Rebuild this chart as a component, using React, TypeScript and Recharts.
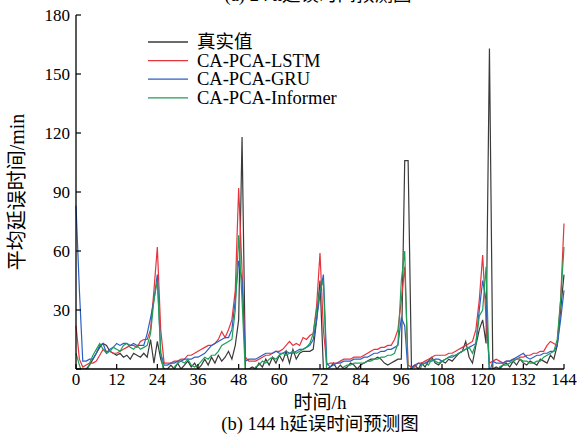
import React from 'react';
import { LineChart, Line, XAxis, YAxis } from 'recharts';

const FONT = "'Liberation Serif', 'Noto Sans CJK SC', serif";

// hour index 0..144
const HOURS = Array.from({ length: 145 }, (_, i) => i);
const X_TICKS = [0, 12, 24, 36, 48, 60, 72, 84, 96, 108, 120, 132, 144];
const Y_TICKS = [0, 30, 60, 90, 120, 150, 180];

// 真实值
const ACTUAL = [
  0, 0, 0, 0, 2, 5, 8, 11, 13, 12, 9, 8, 7, 8, 6, 7, 5, 8, 7, 6, 8, 6, 15, 3, 14, 5, 0,
  0, 2, 0, 3, 0, 2, 4, 1, 3, 0, 2, 5, 2, 6, 3, 7, 4, 6, 9, 5, 12, 25, 118, 0,
  0, 1, 0, 3, 1, 5, 2, 6, 3, 7, 4, 9, 3, 10, 5, 8, 9, 9, 9, 10, 25, 45, 0, 0,
  1, 3, 0, 2, 0, 1, 3, 2, 0, 2, 3, 4, 5, 5, 6, 5, 3, 2, 3, 4, 5, 5, 106, 106,
  0, 2, 0, 3, 1, 4, 6, 3, 2, 4, 3, 5, 4, 6, 8, 9, 14, 6, 3, 12, 20, 25, 13, 163, 0,
  1, 0, 2, 3, 1, 4, 2, 5, 3, 2, 4, 3, 2, 5, 4, 3, 7, 5, 12, 30, 48,
];

// CA-PCA-LSTM
const LSTM = [
  22, 5, 1, 2, 3, 3, 4, 7, 10, 9, 9, 8, 8, 9, 10, 11, 12, 12, 11, 14, 15, 15, 20, 40, 62, 20, 3,
  3, 3, 4, 4, 5, 5, 7, 7, 8, 9, 10, 11, 12, 12, 13, 15, 19, 16, 20, 25, 40, 92, 50, 6,
  4, 4, 4, 5, 6, 7, 7, 8, 9, 9, 10, 12, 14, 12, 13, 12, 16, 15, 17, 18, 32, 59, 20, 2,
  3, 3, 3, 4, 5, 5, 5, 6, 6, 6, 7, 8, 9, 10, 10, 11, 11, 12, 12, 15, 20, 35, 52, 2,
  1, 1, 3, 3, 4, 5, 6, 7, 7, 7, 7, 8, 8, 9, 10, 11, 12, 13, 14, 20, 35, 58, 25, 3, 4,
  5, 4, 3, 4, 4, 5, 5, 6, 6, 7, 7, 8, 8, 9, 9, 12, 14, 13, 12, 35, 74,
];

// CA-PCA-GRU
const GRU = [
  83, 40, 4, 4, 5, 5, 8, 12, 13, 8, 10, 11, 13, 12, 13, 13, 12, 13, 12, 12, 12, 18, 26, 35, 48, 8, 2,
  2, 3, 3, 4, 4, 5, 5, 5, 6, 6, 7, 8, 10, 12, 13, 14, 15, 16, 16, 20, 35, 55, 45, 4,
  5, 5, 5, 6, 7, 8, 8, 8, 9, 8, 8, 9, 8, 8, 9, 10, 10, 11, 12, 15, 25, 38, 48, 3,
  1, 2, 3, 3, 4, 4, 4, 5, 5, 5, 6, 6, 7, 8, 8, 9, 9, 10, 10, 11, 12, 26, 22, -2,
  1, 2, 3, 2, 3, 4, 4, 5, 5, 4, 5, 6, 6, 7, 8, 9, 10, 11, 12, 13, 30, 45, 35, -2, 4,
  3, 3, 3, 4, 4, 5, 6, 7, 8, 6, 5, 6, 7, 7, 8, 8, 9, 9, 12, 25, 40,
];

// CA-PCA-Informer
const INFORMER = [
  8, 2, -3, -3, 3, 7, 10, 13, 10, 8, 9, 11, 10, 9, 12, 13, 11, 10, 12, 10, 11, 12, 18, 35, 45, 8, -3,
  -3, -3, 1, 3, 4, 3, 5, 2, 1, 2, 4, 6, 5, 7, 7, 9, 12, 13, 14, 15, 30, 68, 35, -3,
  -3, -3, 1, 2, 4, 3, 5, 6, 5, 7, 8, 7, 8, 9, 8, 9, 10, 11, 13, 18, 30, 40, 45, -3,
  -3, -3, -3, -3, 1, 2, 2, 3, 3, 3, 3, 4, 4, 5, 5, 6, 6, 7, 7, 8, 13, 45, 60, -3,
  -3, -3, -3, 2, 3, 2, 5, 4, 3, 4, 5, 6, 7, 7, 8, 9, 10, 11, 8, 13, 27, 30, 52, -3, -3,
  -3, 1, 2, 2, 3, 4, 5, 5, 4, 4, 3, 3, 4, 4, 6, 7, 8, 9, 15, 35, 62,
];

const SERIES = [
  { key: 'actual', name: '真实值', color: '#3a3a3a' },
  { key: 'lstm', name: 'CA-PCA-LSTM', color: '#e8323c' },
  { key: 'gru', name: 'CA-PCA-GRU', color: '#2a5fc6' },
  { key: 'informer', name: 'CA-PCA-Informer', color: '#1f9e55' },
];

const data = HOURS.map((h, i) => ({
  hour: h,
  actual: ACTUAL[i],
  lstm: LSTM[i],
  gru: GRU[i],
  informer: INFORMER[i],
}));

// ticks point inwards, labels drawn by hand
const XTick = ({ x, y, payload }: any) => (
  <g>
    <line x1={x} x2={x} y1={y} y2={y - 5} stroke="#000" strokeWidth={1.2} />
    <text x={x} y={y + 16} textAnchor="middle" fontSize={17} fontFamily={FONT} fill="#000">
      {payload.value}
    </text>
  </g>
);

const YTick = ({ x, y, payload }: any) => (
  <g>
    <line x1={x} x2={x + 5} y1={y} y2={y} stroke="#000" strokeWidth={1.2} />
    {payload.value !== 0 && (
      <text x={x - 6} y={y + 6} textAnchor="end" fontSize={17} fontFamily={FONT} fill="#000">
        {payload.value}
      </text>
    )}
  </g>
);

export default function App() {
  return (
    <div
      style={{
        position: 'absolute',
        left: 0,
        top: 0,
        width: 586,
        height: 437,
        background: '#fff',
        fontFamily: FONT,
      }}
    >
      <LineChart
        width={586}
        height={437}
        data={data}
        margin={{ top: 15, right: 22, bottom: 38, left: 16 }}
      >
        <XAxis
          type="number"
          dataKey="hour"
          domain={[0, 144]}
          ticks={X_TICKS}
          interval={0}
          height={30}
          tickLine={false}
          tickSize={0}
          tickMargin={0}
          axisLine={{ stroke: '#000', strokeWidth: 1.3 }}
          tick={XTick}
        />
        <YAxis
          type="number"
          domain={[0, 180]}
          ticks={Y_TICKS}
          interval={0}
          width={60}
          allowDataOverflow
          tickLine={false}
          tickSize={0}
          tickMargin={0}
          axisLine={{ stroke: '#000', strokeWidth: 1.3 }}
          tick={YTick}
        />
        {SERIES.map((s) => (
          <Line
            key={s.key}
            type="linear"
            dataKey={s.key}
            name={s.name}
            stroke={s.color}
            strokeWidth={1.2}
            dot={false}
            activeDot={false}
            isAnimationActive={false}
          />
        ))}
      </LineChart>

      <svg
        width={586}
        height={437}
        style={{ position: 'absolute', left: 0, top: 0, pointerEvents: 'none' }}
      >
        {/* cut-off caption of the upper panel */}
        <text x={318} y={1} textAnchor="middle" fontSize={18.5} fontFamily={FONT} fill="#000">
          (a) 24 h延误时间预测图
        </text>

        {SERIES.map((s, i) => (
          <g key={s.key}>
            <line
              x1={148}
              x2={188}
              y1={42 + i * 18.6}
              y2={42 + i * 18.6}
              stroke={s.color}
              strokeWidth={1.3}
            />
            <text x={197} y={42 + i * 18.6 + 6} fontSize={18.5} fontFamily={FONT} fill="#000">
              {s.name}
            </text>
          </g>
        ))}

        <text
          transform="translate(24,192) rotate(-90)"
          textAnchor="middle"
          fontSize={20}
          fontFamily={FONT}
          fill="#000"
        >
          平均延误时间/min
        </text>
        <text x={320} y={409} textAnchor="middle" fontSize={19} fontFamily={FONT} fill="#000">
          时间/h
        </text>
        <text x={320} y={430} textAnchor="middle" fontSize={18.5} fontFamily={FONT} fill="#000">
          (b) 144 h延误时间预测图
        </text>
      </svg>
    </div>
  );
}
